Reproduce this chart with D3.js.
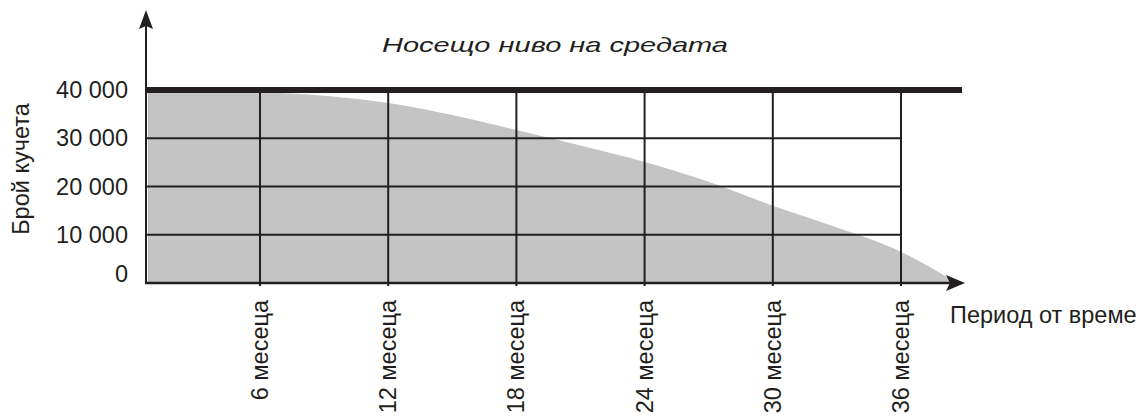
<!DOCTYPE html>
<html>
<head>
<meta charset="utf-8">
<script src="https://cdn.jsdelivr.net/npm/d3@7"></script>
<style>
  body { margin: 0; background: #fff; }
  text { font-family: "Liberation Sans", Arial, sans-serif; fill: #231f20; }
</style>
</head>
<body>
<div id="chart"></div>
<script>
// chart data
var months = [0.75, 3, 6, 9, 12, 15, 18, 21, 24, 27, 30, 33, 36, 38.6];
var dogs = [40000, 39900, 39600, 38800, 37300, 34800, 31700, 28500, 25100, 21000, 16000, 11500, 6500, 0];
var monthTicks = [6, 12, 18, 24, 30, 36];
var monthLabels = ["6 месеца", "12 месеца", "18 месеца", "24 месеца", "30 месеца", "36 месеца"];
var countTicks = [0, 10000, 20000, 30000, 40000];
var capacity = 40000;

var title = "Носещо ниво на средата";
var yTitle = "Брой кучета";
var xTitle = "Период от време";

var svgWidth = 1144, svgHeight = 417;
var ink = "#231f20";

var svg = d3.select("#chart")
  .append("svg")
  .attr("width", svgWidth)
  .attr("height", svgHeight);

// scales
var x = d3.scaleLinear().domain([6, 36]).range([260, 901]);
var y = d3.scaleLinear().domain([0, 40000]).range([283, 90]);
var axisX = 146, axisEnd = 965, gridEnd = x(36);

// grey area under the curve
var area = d3.area()
  .x(function(d, i) { return x(months[i]); })
  .y0(y(0))
  .y1(function(d) { return y(d); })
  .curve(d3.curveMonotoneX);

svg.append("path")
  .datum(dogs)
  .attr("d", area)
  .attr("fill", "#c4c4c4");

// horizontal grid lines
svg.append("g")
  .selectAll("line")
  .data(countTicks.filter(function(d) { return d > 0 && d < capacity; }))
  .join("line")
    .attr("x1", axisX)
    .attr("x2", gridEnd)
    .attr("y1", d => y(d))
    .attr("y2", d => y(d))
    .attr("stroke", ink)
    .attr("stroke-width", 2);

// vertical grid lines
svg.append("g")
  .selectAll("line")
  .data(monthTicks)
  .join("line")
    .attr("x1", d => x(d))
    .attr("x2", d => x(d))
    .attr("y1", y(capacity))
    .attr("y2", y(0) + 3)
    .attr("stroke", ink)
    .attr("stroke-width", 2);

// carrying capacity line
svg.append("line")
  .attr("x1", axisX)
  .attr("x2", 962)
  .attr("y1", y(capacity))
  .attr("y2", y(capacity))
  .attr("stroke", ink)
  .attr("stroke-width", 6);

// axes with arrows
svg.append("line")
  .attr("x1", axisX).attr("x2", axisX)
  .attr("y1", 26).attr("y2", y(0) + 1)
  .attr("stroke", ink).attr("stroke-width", 2);
svg.append("line")
  .attr("x1", axisX - 1).attr("x2", axisEnd - 14)
  .attr("y1", y(0)).attr("y2", y(0))
  .attr("stroke", ink).attr("stroke-width", 2.5);

svg.append("path")
  .attr("d", "M" + axisX + ",10 L" + (axisX + 7) + ",29 L" + axisX + ",26 L" + (axisX - 7) + ",29 Z")
  .attr("fill", ink);
svg.append("path")
  .attr("d", "M" + axisEnd + "," + y(0) + " L" + (axisEnd - 19) + "," + (y(0) + 8) +
        " L" + (axisEnd - 15) + "," + y(0) + " L" + (axisEnd - 19) + "," + (y(0) - 8) + " Z")
  .attr("fill", ink);

// y tick labels
var fmt = d3.formatLocale({ decimal: ",", thousands: " ", grouping: [3] }).format(",");
var yAxis = d3.axisLeft(y).tickValues(countTicks).tickSize(0).tickPadding(0).tickFormat(fmt);
var yg = svg.append("g")
  .attr("transform", "translate(128,0)")
  .call(yAxis);
yg.select(".domain").remove();
yg.selectAll("text")
  .attr("font-size", 23.5)
  .attr("font-family", "Liberation Sans, Arial, sans-serif")
  .attr("fill", ink)
  .attr("dy", d => d === 0 ? "-0.05em" : "0.32em");

// x tick labels (rotated)
svg.append("g")
  .selectAll("text")
  .data(monthTicks)
  .join("text")
    .attr("transform", d => "translate(" + (x(d) + 8) + ",300) rotate(-90)")
    .attr("text-anchor", "end")
    .attr("font-size", 23.5)
    .text((d, i) => monthLabels[i]);

// titles
svg.append("text")
  .attr("x", 555)
  .attr("y", 52)
  .attr("text-anchor", "middle")
  .attr("font-size", 21)
  .attr("font-style", "italic")
  .attr("font-family", "DejaVu Sans, sans-serif")
  .attr("textLength", 346)
  .attr("lengthAdjust", "spacingAndGlyphs")
  .text(title);

svg.append("text")
  .attr("transform", "translate(29,169) rotate(-90)")
  .attr("text-anchor", "middle")
  .attr("font-size", 23.5)
  .text(yTitle);

svg.append("text")
  .attr("x", 950)
  .attr("y", 323)
  .attr("font-size", 23.5)
  .text(xTitle);
</script>
</body>
</html>
